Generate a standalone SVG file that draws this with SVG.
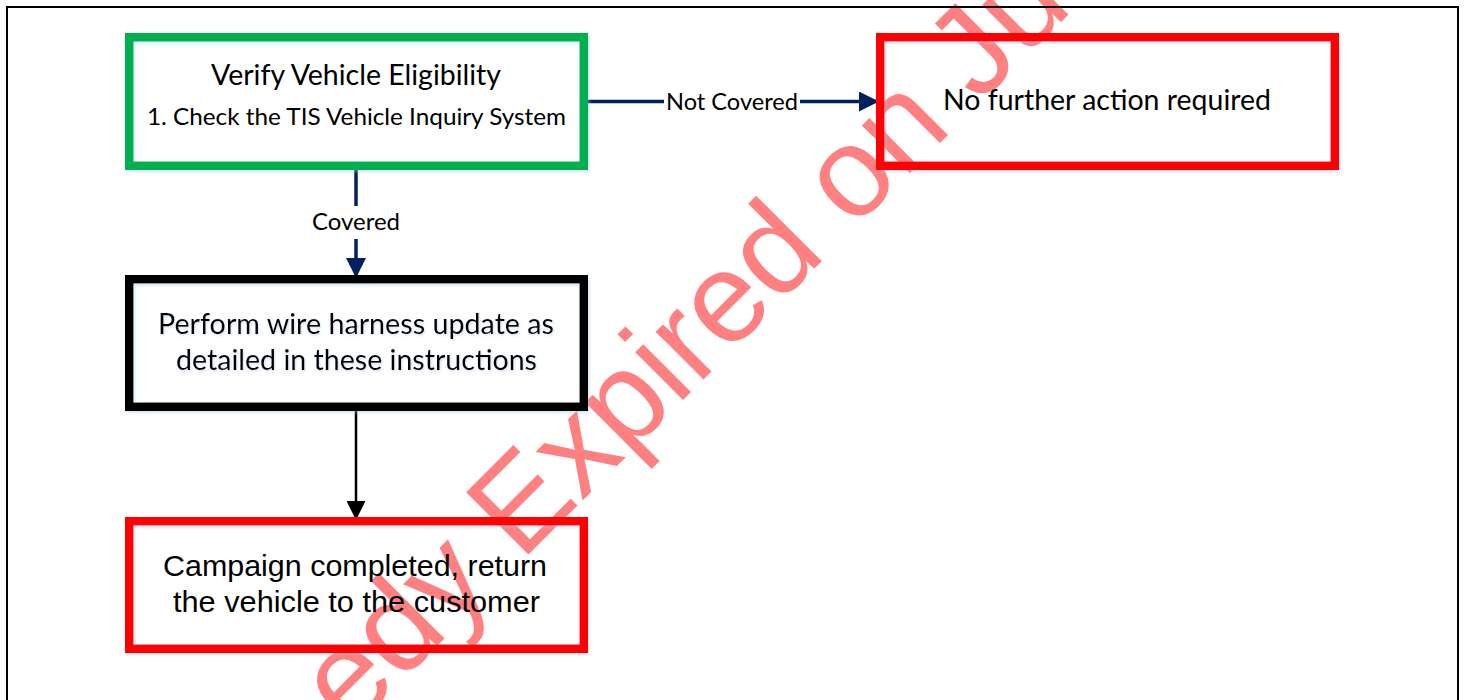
<svg xmlns="http://www.w3.org/2000/svg" width="1465" height="700" viewBox="0 0 1465 700">
  <style>
    .box { fill: none; stroke-width: 8.5; filter: url(#shadow); }
    .cal { font-family: Lato, "Open Sans", "Liberation Sans", sans-serif; fill: #000; }
    .ari { font-family: "Liberation Sans", Arial, sans-serif; fill: #000; }
    .lbl { font-family: Lato, "Open Sans", "Liberation Sans", sans-serif; font-size: 24px; fill: #000; }
    .wm { font-family: "Liberation Sans", Arial, sans-serif; font-size: 128px; fill: #FF8080; }
  </style>
  <defs>
    <filter id="shadow" x="-5%" y="-5%" width="115%" height="120%">
      <feDropShadow dx="1.5" dy="2" stdDeviation="1.5" flood-color="#9DC3E6" flood-opacity="0.45"/>
    </filter>
    <filter id="tshadow" x="-5%" y="-20%" width="110%" height="150%">
      <feDropShadow dx="1" dy="1.5" stdDeviation="1.2" flood-color="#8FAADC" flood-opacity="0.4"/>
    </filter>
    <marker id="arrNavy" viewBox="0 0 20 20" refX="20" refY="10" markerWidth="20" markerHeight="20" orient="auto" markerUnits="userSpaceOnUse">
      <path d="M0,0 L20,10 L0,20 z" fill="#002060"/>
    </marker>
    <marker id="arrBlack" viewBox="0 0 20 20" refX="20" refY="10" markerWidth="20" markerHeight="19" orient="auto" markerUnits="userSpaceOnUse">
      <path d="M0,0 L20,10 L0,20 z" fill="#000"/>
    </marker>
  </defs>

  <rect x="0" y="0" width="1465" height="700" fill="#fff"/>

  <!-- watermark -->
  <g id="watermark">
    <text class="wm" x="350" y="733" transform="rotate(-45 350 733)">edy Expired on Ju</text>
  </g>

  <!-- outer frame -->
  <rect id="frame" x="7" y="7" width="1451" height="720" fill="none" stroke="#000" stroke-width="2"/>

  <!-- connectors -->
  <g id="connectors">
    <g id="edge-not-covered">
      <line x1="588" y1="101.5" x2="879" y2="101.5" stroke="#002060" stroke-width="3.5" marker-end="url(#arrNavy)"/>
      <rect x="664" y="89" width="136" height="25" fill="#fff"/>
      <text class="lbl" x="732" y="110" text-anchor="middle" textLength="132" lengthAdjust="spacingAndGlyphs">Not Covered</text>
    </g>
    <g id="edge-covered">
      <line x1="356" y1="170" x2="356" y2="278" stroke="#002060" stroke-width="3.5" marker-end="url(#arrNavy)"/>
      <rect x="308" y="206" width="96" height="33" fill="#fff"/>
      <text class="lbl" x="356" y="230" text-anchor="middle" textLength="88" lengthAdjust="spacingAndGlyphs">Covered</text>
    </g>
    <g id="edge-done">
      <line x1="356" y1="411" x2="356" y2="520" stroke="#000" stroke-width="2.5" marker-end="url(#arrBlack)"/>
    </g>
  </g>

  <!-- nodes -->
  <g id="node-verify">
    <rect class="box" x="129.25" y="37.25" width="454.5" height="128.5" stroke="#00B050"/>
    <text class="cal" x="356" y="85" font-size="28" text-anchor="middle" textLength="290" lengthAdjust="spacingAndGlyphs">Verify Vehicle Eligibility</text>
    <text class="cal" x="356.5" y="125" font-size="23" text-anchor="middle" textLength="419" lengthAdjust="spacingAndGlyphs">1.  Check the TIS Vehicle Inquiry System</text>
  </g>

  <g id="node-no-action">
    <rect class="box" x="880.25" y="37.25" width="454.5" height="128.5" stroke="#FF0000"/>
    <text class="cal" x="1107" y="110" font-size="28" text-anchor="middle" textLength="328" lengthAdjust="spacingAndGlyphs">No further action required</text>
  </g>

  <g id="node-perform">
    <rect class="box" x="129.25" y="279.25" width="454.5" height="127.5" stroke="#000"/>
    <g filter="url(#tshadow)">
      <text class="cal" x="356" y="334" font-size="28" text-anchor="middle" textLength="396" lengthAdjust="spacingAndGlyphs">Perform wire harness update as</text>
      <text class="cal" x="356.5" y="370" font-size="28" text-anchor="middle" textLength="361" lengthAdjust="spacingAndGlyphs">detailed in these instructions</text>
    </g>
  </g>

  <g id="node-complete">
    <rect class="box" x="129.25" y="521.25" width="454.5" height="127.5" stroke="#FF0000"/>
    <text class="ari" x="355" y="576" font-size="30" text-anchor="middle" textLength="384" lengthAdjust="spacingAndGlyphs">Campaign completed, return</text>
    <text class="ari" x="356.5" y="612" font-size="30" text-anchor="middle" textLength="367" lengthAdjust="spacingAndGlyphs">the vehicle to the customer</text>
  </g>
</svg>
